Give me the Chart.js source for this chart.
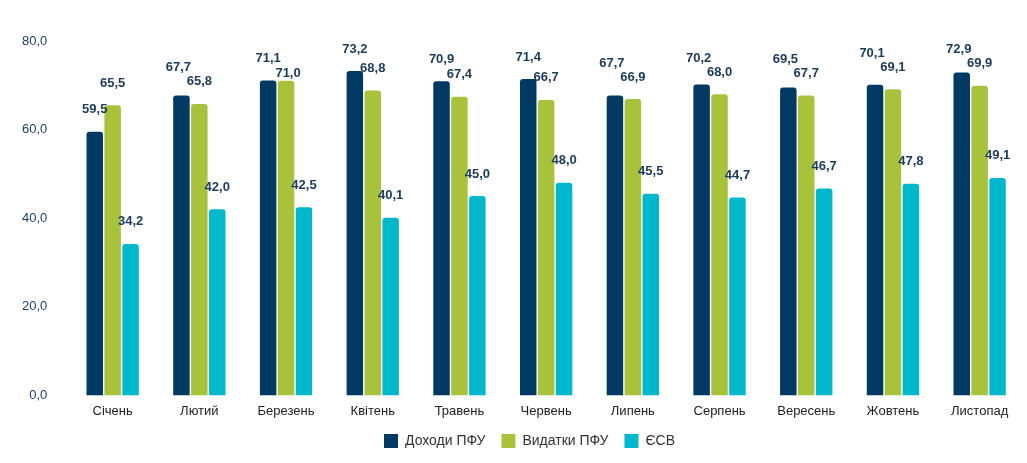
<!DOCTYPE html>
<html><head><meta charset="utf-8">
<script src="https://cdn.jsdelivr.net/npm/chart.js@4/dist/chart.umd.min.js"></script>
<style>html,body{margin:0;padding:0;background:#fff}#w{width:1027px;height:463px}</style>
</head><body><div id="w"><canvas id="c" width="1027" height="463"></canvas></div>
<script>
const categories = ["Січень","Лютий","Березень","Квітень","Травень","Червень","Липень","Серпень","Вересень","Жовтень","Листопад"];
const incomePFU = [59.5,67.7,71.1,73.2,70.9,71.4,67.7,70.2,69.5,70.1,72.9];
const expensePFU = [65.5,65.8,71.0,68.8,67.4,66.7,66.9,68.0,67.7,69.1,69.9];
const esv = [34.2,42.0,42.5,40.1,45.0,48.0,45.5,44.7,46.7,47.8,49.1];
const seriesNames = ["Доходи ПФУ","Видатки ПФУ","ЄСВ"];
const yTicks = [0,20,40,60,80];

const fmt = v => v.toFixed(1).replace('.', ',');

// value labels above bars, with simple collision avoidance between neighbouring labels
const valueLabels = {
  id:'valueLabels',
  afterLayout(chart){
    // centre the legend under the plot area rather than the whole canvas
    const lg = chart.legend;
    if (lg) { lg.left += 18; lg.right += 18; }
  },
  afterDatasetsDraw(chart){
    const ctx = chart.ctx;
    ctx.save();
    ctx.font = 'bold 13px "Liberation Sans", Arial, sans-serif';
    ctx.fillStyle = '#1b3a5c';
    ctx.textAlign = 'center';
    ctx.textBaseline = 'middle';
    const GAP = 22, SEP = 14;
    const n = chart.data.labels.length;
    for (let j = 0; j < n; j++) {
      const pos = chart.data.datasets.map((ds, i) => {
        const bar = chart.getDatasetMeta(i).data[j];
        return {x: bar.x, y: bar.y - GAP, t: fmt(ds.data[j])};
      });
      const a = pos[0], b = pos[1];
      const w = ctx.measureText(a.t).width;
      if (Math.abs(a.x - b.x) < w + 2 && Math.abs(a.y - b.y) < SEP) {
        if (Math.abs(a.y - b.y) < 2) { b.y = a.y + SEP + 1; b.x += 2; }
        else if (a.y <= b.y) { a.y = b.y - SEP; a.x -= 3; }
        else { b.y = a.y + SEP; }
      }
      pos.forEach(p => ctx.fillText(p.t, p.x, p.y));
    }
    ctx.restore();
  }
};

new Chart(document.getElementById('c'), {
  type:'bar',
  data:{
    labels:categories,
    datasets:[
      {label:seriesNames[0], data:incomePFU, backgroundColor:'#003a63'},
      {label:seriesNames[1], data:expensePFU, backgroundColor:'#a9c23c'},
      {label:seriesNames[2], data:esv, backgroundColor:'#00b8cc'}
    ]
  },
  options:{
    responsive:false,
    animation:false,
    layout:{padding:{top:41,right:4,left:0,bottom:5}},
    datasets:{bar:{barPercentage:0.92,categoryPercentage:0.62,borderRadius:{topLeft:3,topRight:3},borderSkipped:'bottom'}},
    scales:{
      x:{grid:{display:false,drawTicks:false},border:{display:false},
         afterFit(scale){ scale.height -= 9; },
         ticks:{color:'#222',font:{family:'"Liberation Sans", Arial, sans-serif',size:13},padding:8}},
      y:{min:0,max:80,grid:{display:false,drawTicks:false},border:{display:false},
         afterBuildTicks(ax){ax.ticks = yTicks.map(v=>({value:v}));},
         ticks:{color:'#1f3f6e',font:{family:'"Liberation Sans", Arial, sans-serif',size:13},padding:22,callback:v=>fmt(v)}}
    },
    plugins:{
      legend:{position:'bottom',labels:{boxWidth:14,boxHeight:14,padding:16,color:'#333',font:{family:'"Liberation Sans", Arial, sans-serif',size:14}}},
      tooltip:{enabled:false}
    }
  },
  plugins:[valueLabels]
});
</script></body></html>
